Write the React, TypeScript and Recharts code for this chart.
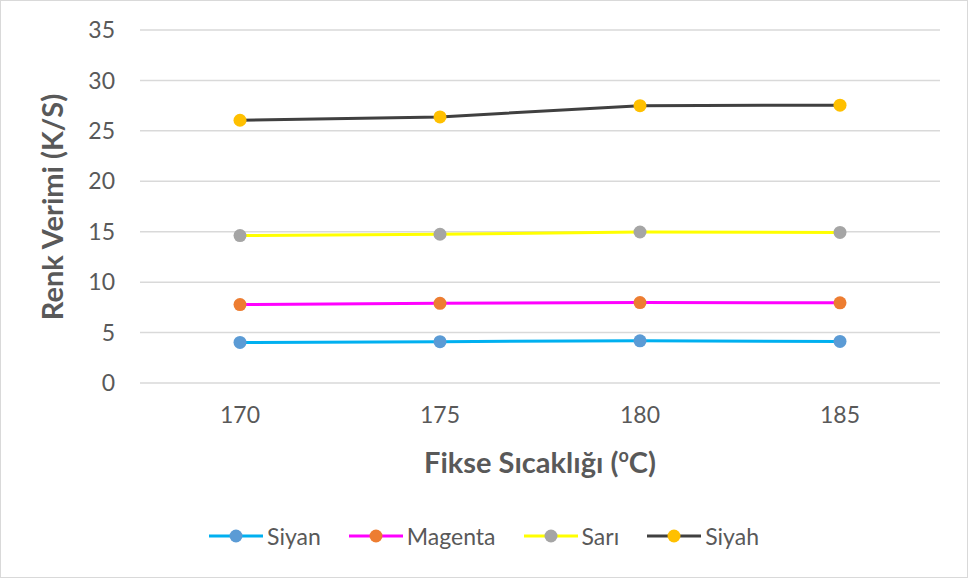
import React from "react";
import { LineChart, Line, XAxis, YAxis, CartesianGrid, Legend } from "recharts";

const temps = ["170", "175", "180", "185"];
const siyan = [4.02, 4.1, 4.18, 4.12];
const magenta = [7.78, 7.9, 7.97, 7.95];
const sari = [14.62, 14.75, 14.97, 14.93];
const siyah = [26.05, 26.38, 27.5, 27.55];
const yTicks = [0, 5, 10, 15, 20, 25, 30, 35];

const FONT = "Lato, 'Open Sans', sans-serif";
const TEXT = "#595959";

const series = [
  { key: "siyan", name: "Siyan", line: "#00B0F0", dot: "#5B9BD5" },
  { key: "magenta", name: "Magenta", line: "#FF00FF", dot: "#ED7D31" },
  { key: "sari", name: "Sarı", line: "#FFFF00", dot: "#A5A5A5" },
  { key: "siyah", name: "Siyah", line: "#404040", dot: "#FFC000" }
];

const data = temps.map((t, i) => ({
  temp: t,
  siyan: siyan[i],
  magenta: magenta[i],
  sari: sari[i],
  siyah: siyah[i]
}));

function LegendContent() {
  return (
    <div style={{ display: "flex", justifyContent: "center", alignItems: "center", gap: 28, fontFamily: FONT }}>
      {series.map((s) => (
        <div key={s.key} style={{ display: "flex", alignItems: "center" }}>
          <svg width={54} height={16}>
            <line x1={0} y1={8} x2={54} y2={8} stroke={s.line} strokeWidth={3} />
            <circle cx={27} cy={8} r={6.5} fill={s.dot} />
          </svg>
          <span style={{ marginLeft: 4, fontSize: 23, color: TEXT }}>{s.name}</span>
        </div>
      ))}
    </div>
  );
}

export default function App() {
  return (
    <div style={{ position: "absolute", left: 0, top: 0, width: 968, height: 578, background: "#fff" }}>
      <LineChart
        width={968}
        height={578}
        data={data}
        margin={{ top: 30, right: 28, left: 0, bottom: 0 }}
      >
        <CartesianGrid vertical={false} stroke="#d9d9d9" strokeWidth={1.5} />
        <XAxis
          dataKey="temp"
          axisLine={false}
          tickLine={false}
          height={195}
          tickMargin={18}
          padding={{ left: 100, right: 100 }}
          tick={{ fill: TEXT, fontSize: 23, fontFamily: FONT }}
          label={{
            content: (props: any) => {
              const vb = props.viewBox || {};
              const cx = (vb.x ?? 140) + (vb.width ?? 800) / 2;
              return (
                <text x={cx} y={473} textAnchor="middle" fill={TEXT} fontFamily={FONT} fontWeight="bold" fontSize={29}>
                  Fikse Sıcaklığı (
                  <tspan fontSize={18} dy={-11}>o</tspan>
                  <tspan dy={11}>C)</tspan>
                </text>
              );
            }
          }}
        />
        <YAxis
          domain={[0, 35]}
          ticks={yTicks}
          width={140}
          axisLine={false}
          tickLine={false}
          tickMargin={19}
          tick={{ fill: TEXT, fontSize: 23, fontFamily: FONT }}
          label={{
            content: () => (
              <text
                x={0}
                y={0}
                transform="translate(63, 207) rotate(-90)"
                textAnchor="middle"
                fill={TEXT}
                fontFamily={FONT}
                fontWeight="bold"
                fontSize={29}
              >
                Renk Verimi (K/S)
              </text>
            )
          }}
        />
        <Legend
          verticalAlign="middle"
          align="center"
          content={<LegendContent />}
          wrapperStyle={{ top: 522, left: 0, width: 968 }}
        />
        {series.map((s) => (
          <Line
            key={s.key}
            dataKey={s.key}
            name={s.name}
            stroke={s.line}
            strokeWidth={3}
            dot={{ r: 6.5, fill: s.dot, stroke: s.dot, strokeWidth: 0 }}
            activeDot={false}
            isAnimationActive={false}
          />
        ))}
      </LineChart>
      <div
        style={{
          position: "absolute",
          left: 0,
          top: 0,
          width: 968,
          height: 578,
          boxSizing: "border-box",
          border: "1px solid #d9d9d9",
          pointerEvents: "none"
        }}
      />
    </div>
  );
}
